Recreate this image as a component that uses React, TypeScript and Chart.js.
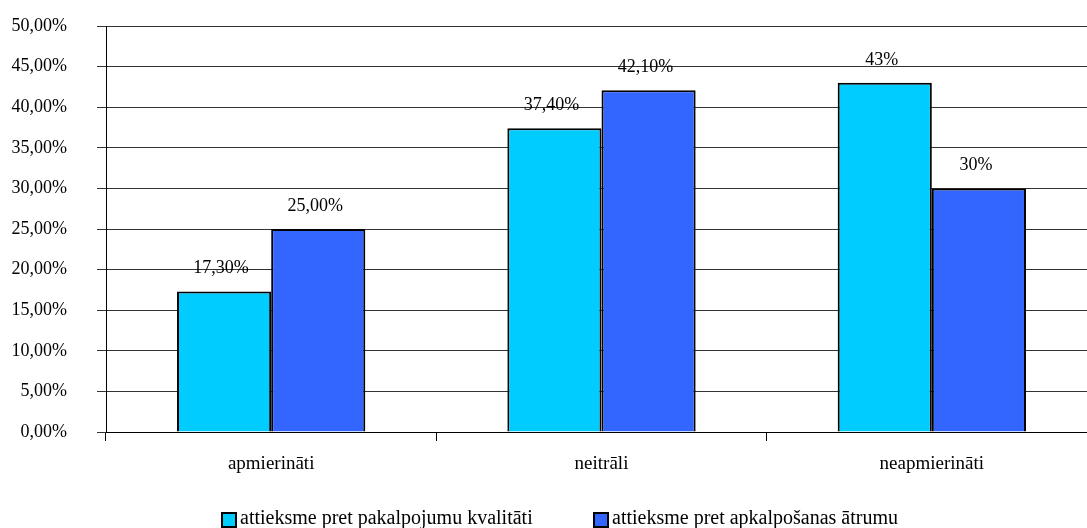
import React, { useEffect, useRef } from "react";
import { Chart, registerables } from "chart.js";

Chart.register(...registerables);

const categories = ["apmierināti", "neitrāli", "neapmierināti"];
const seriesNames = ["attieksme pret pakalpojumu kvalitāti", "attieksme pret apkalpošanas ātrumu"];
const qualityValues = [17.3, 37.4, 43];
const speedValues = [25.0, 42.1, 30];
const qualityLabels = ["17,30%", "37,40%", "43%"];
const speedLabels = ["25,00%", "42,10%", "30%"];
const yTickMin = 0;
const yTickMax = 50;
const yTickStep = 5;

const FONT = "'Liberation Serif', 'Times New Roman', serif";
const AXIS_FONT_SIZE = 18;
const XLABEL_FONT_SIZE = 19;
const LEGEND_FONT_SIZE = 20;

const valueLabelsPlugin = {
  id: "valueLabels",
  afterDatasetsDraw(chart: any) {
    const ctx = chart.ctx;
    const allLabels = [qualityLabels, speedLabels];
    ctx.save();
    ctx.font = `${AXIS_FONT_SIZE}px ${FONT}`;
    ctx.fillStyle = "#000";
    ctx.textAlign = "center";
    ctx.textBaseline = "middle";
    chart.data.datasets.forEach((ds: any, di: number) => {
      const meta = chart.getDatasetMeta(di);
      meta.data.forEach((bar: any, i: number) => {
        ctx.fillText(allLabels[di][i], bar.x - 3, bar.y - 23);
      });
    });
    ctx.restore();
  },
};

const legendPlugin = {
  id: "customLegend",
  afterDraw(chart: any) {
    const ctx = chart.ctx;
    ctx.save();
    ctx.font = `${LEGEND_FONT_SIZE}px ${FONT}`;
    const box = 14;
    const boxGap = 4;
    const itemGap = 61;
    const ds = chart.data.datasets;
    let x = 222;
    const cy = 519;
    ds.forEach((d: any) => {
      const w = box + boxGap + ctx.measureText(d.label).width;
      ctx.fillStyle = d.backgroundColor;
      ctx.fillRect(x, cy - box / 2 + 1, box, box);
      ctx.strokeStyle = "#000";
      ctx.lineWidth = 2;
      ctx.strokeRect(x, cy - box / 2 + 1, box, box);
      ctx.fillStyle = "#000";
      ctx.textAlign = "left";
      ctx.textBaseline = "middle";
      ctx.fillText(d.label, x + box + boxGap, cy);
      x += Math.round(w) + itemGap;
    });
    ctx.restore();
  },
};

export default function App() {
  const ref = useRef<HTMLCanvasElement | null>(null);
  useEffect(() => {
    document.body.style.margin = "0";
    document.body.style.overflow = "hidden";
    const chart = new Chart(ref.current!, {
      type: "bar",
      data: {
        labels: categories,
        datasets: [
          {
            label: seriesNames[0],
            data: qualityValues,
            backgroundColor: "#00CCFF",
            borderColor: "#000",
            borderWidth: 2,
            categoryPercentage: 0.57,
            barPercentage: 1,
          },
          {
            label: seriesNames[1],
            data: speedValues,
            backgroundColor: "#3366FF",
            borderColor: "#000",
            borderWidth: 2,
            categoryPercentage: 0.57,
            barPercentage: 1,
          },
        ],
      },
      options: {
        animation: false,
        responsive: false,
        maintainAspectRatio: false,
        layout: { padding: { top: 26, right: 3, left: 0, bottom: 0 } },
        plugins: {
          legend: { display: false },
          tooltip: { enabled: false },
        },
        scales: {
          x: {
            offset: true,
            grid: { offset: true, drawOnChartArea: false, drawTicks: true, tickLength: 9, color: "#000" },
            border: { color: "#000", width: 1 },
            ticks: { color: "#000", font: { family: FONT, size: XLABEL_FONT_SIZE }, padding: 12 },
            afterFit: (s: any) => {
              s.height = 96;
              s.paddingLeft = 0;
              s.paddingRight = 0;
            },
          },
          y: {
            min: yTickMin,
            max: yTickMax,
            grid: { color: "#333", lineWidth: 1, tickLength: 9 },
            border: { color: "#000", width: 1 },
            ticks: {
              stepSize: yTickStep,
              color: "#000",
              font: { family: FONT, size: AXIS_FONT_SIZE },
              padding: 30,
              callback: (v: any) => Number(v).toFixed(2).replace(".", ",") + "%",
            },
            afterFit: (s: any) => {
              s.width = 106;
              s.paddingTop = 0;
              s.paddingBottom = 0;
            },
          },
        },
      },
      plugins: [valueLabelsPlugin, legendPlugin],
    });
    return () => chart.destroy();
  }, []);
  return (
    <div style={{ position: "fixed", left: 0, top: 0, width: 1100, height: 528 }}>
      <canvas ref={ref} width={1100} height={528} />
    </div>
  );
}
